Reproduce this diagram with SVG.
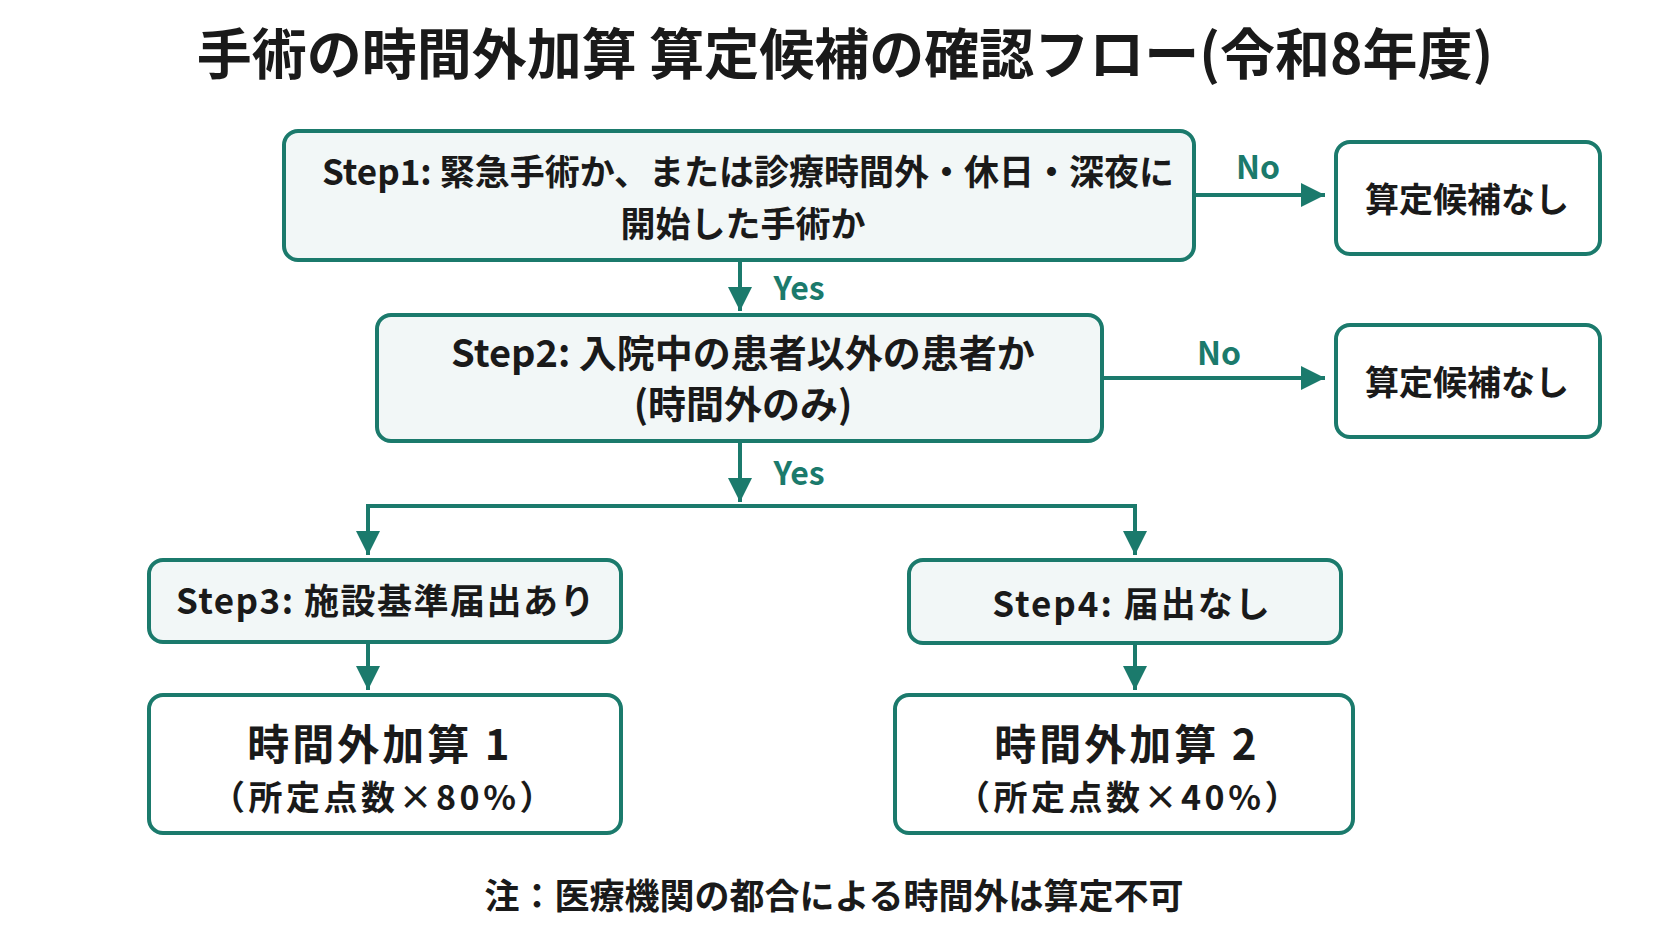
<svg xmlns="http://www.w3.org/2000/svg" width="1672" height="941" viewBox="0 0 1672 941">
<style>
text{font-family:"Noto Sans CJK JP","Noto Sans",sans-serif;fill:#1a1a1a;font-weight:700;text-anchor:middle}
.box{fill:#f2f7f7;stroke:#1b7a6c;stroke-width:4}
.wbox{fill:#ffffff;stroke:#1b7a6c;stroke-width:4}
.line{fill:none;stroke:#1b7a6c;stroke-width:4}
.lbl{fill:#1b7a6c;font-size:32px}
.step{font-size:35px}
.step2{font-size:38px}
.res{font-size:42px;letter-spacing:3px}
.sub{font-size:34px;letter-spacing:3.5px}
.none{font-size:34px}
</style>
<defs>
<marker id="ah" viewBox="0 0 10 10" refX="10" refY="5" markerWidth="6" markerHeight="6.5" markerUnits="strokeWidth" orient="auto">
<path d="M0,0 L10,5 L0,10 z" fill="#1b7a6c"/>
</marker>
</defs>
<rect width="1672" height="941" fill="#ffffff"/>
<text id="title" x="845" y="74" font-size="55" font-weight="900">手術の時間外加算 算定候補の確認フロー(令和8年度)</text>
<g id="connectors">
<line class="line" x1="1194" y1="195" x2="1325" y2="195" marker-end="url(#ah)"/>
<text class="lbl" x="1258" y="179">No</text>
<line class="line" x1="740" y1="260" x2="740" y2="311" marker-end="url(#ah)"/>
<text class="lbl" x="799" y="300">Yes</text>
<line class="line" x1="1102" y1="378" x2="1325" y2="378" marker-end="url(#ah)"/>
<text class="lbl" x="1219" y="365">No</text>
<line class="line" x1="740" y1="442" x2="740" y2="502" marker-end="url(#ah)"/>
<text class="lbl" x="799" y="485">Yes</text>
<polyline class="line" points="368,555 368,506 1135,506 1135,555"/>
<line class="line" x1="368" y1="506" x2="368" y2="555" marker-end="url(#ah)"/>
<line class="line" x1="1135" y1="506" x2="1135" y2="555" marker-end="url(#ah)"/>
<line class="line" x1="368" y1="642" x2="368" y2="690" marker-end="url(#ah)"/>
<line class="line" x1="1135" y1="643" x2="1135" y2="690" marker-end="url(#ah)"/>
</g>
<g id="step1">
<rect class="box" x="284" y="131" width="910" height="129" rx="14"/>
<text class="step" x="748" y="185">Step1: 緊急手術か、または診療時間外・休日・深夜に</text>
<text class="step" x="743" y="237">開始した手術か</text>
</g>
<g id="none1">
<rect class="wbox" x="1336" y="142" width="264" height="112" rx="14"/>
<text class="none" x="1467" y="212">算定候補なし</text>
</g>
<g id="step2">
<rect class="box" x="377" y="315" width="725" height="126" rx="14"/>
<text class="step2" x="743" y="367">Step2: 入院中の患者以外の患者か</text>
<text class="step2" x="743" y="418">(時間外のみ)</text>
</g>
<g id="none2">
<rect class="wbox" x="1336" y="325" width="264" height="112" rx="14"/>
<text class="none" x="1467" y="395">算定候補なし</text>
</g>
<g id="step3">
<rect class="box" x="149" y="560" width="472" height="82" rx="14"/>
<text class="step" x="386" y="614" font-size="36" letter-spacing="1.5">Step3: 施設基準届出あり</text>
</g>
<g id="step4">
<rect class="box" x="909" y="560" width="432" height="83" rx="14"/>
<text class="step" x="1132" y="617" font-size="37" letter-spacing="2">Step4: 届出なし</text>
</g>
<g id="result1">
<rect class="wbox" x="149" y="695" width="472" height="138" rx="14"/>
<text class="res" x="380" y="760">時間外加算 1</text>
<text class="sub" x="384" y="810">（所定点数×80%）</text>
</g>
<g id="result2">
<rect class="wbox" x="895" y="695" width="458" height="138" rx="14"/>
<text class="res" x="1127" y="760">時間外加算 2</text>
<text class="sub" x="1129" y="810">（所定点数×40%）</text>
</g>
<text id="note" x="834" y="909" font-size="35">注：医療機関の都合による時間外は算定不可</text>
</svg>
